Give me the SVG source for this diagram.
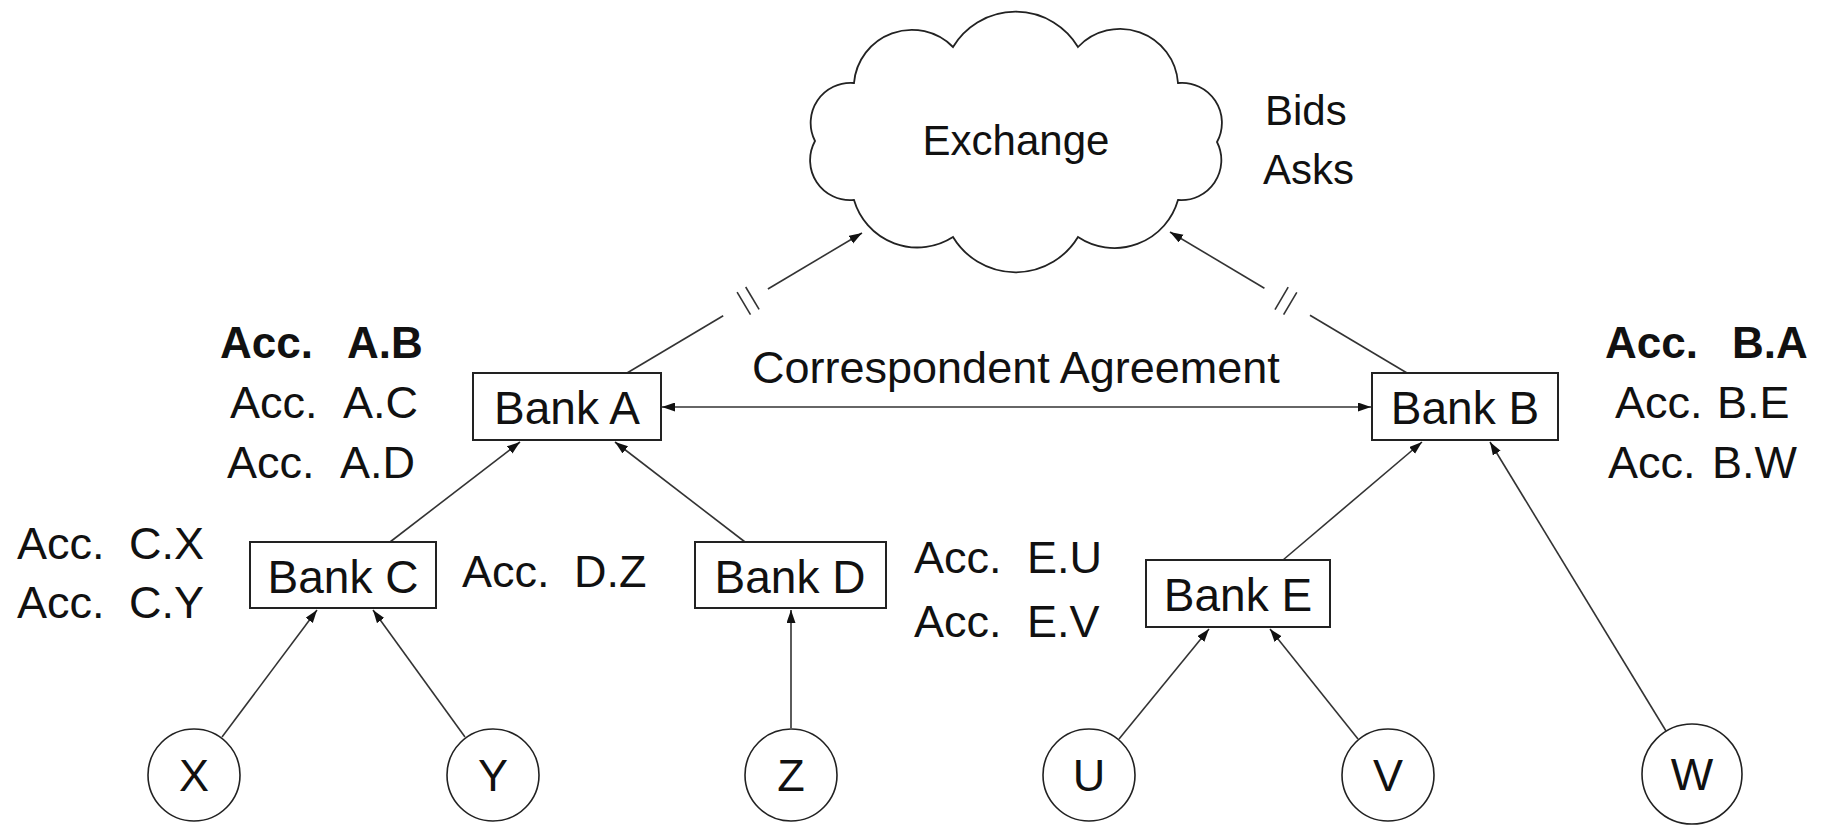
<svg xmlns="http://www.w3.org/2000/svg" width="1821" height="825" viewBox="0 0 1821 825">
  <defs>
    <style>
      text { font-family: "Liberation Sans", Arial, sans-serif; fill: #111; }
      .lbl { font-size: 45px; }
      .bold { font-size: 44px; font-weight: bold; }
      .bank { font-size: 46px; text-anchor: middle; }
      .leaf { font-size: 45px; text-anchor: middle; }
      .box { fill: #fff; stroke: #222; stroke-width: 2; }
      .circ { fill: #fff; stroke: #222; stroke-width: 1.6; }
      .cloud { fill: #fff; stroke: #222; stroke-width: 1.8; }
      .edge { fill: none; stroke: #333; stroke-width: 1.6; }
      .arr { marker-end: url(#head); }
      .both { marker-start: url(#tail); marker-end: url(#head); }
    </style>
    <marker id="head" markerUnits="userSpaceOnUse" markerWidth="14" markerHeight="10" refX="13" refY="4.5" orient="auto">
      <path d="M0,0 L13,4.5 L0,9 Z" fill="#111"/>
    </marker>
    <marker id="tail" markerUnits="userSpaceOnUse" markerWidth="14" markerHeight="10" refX="0" refY="4.5" orient="auto">
      <path d="M13,0 L0,4.5 L13,9 Z" fill="#111"/>
    </marker>
  </defs>

  <!-- connectors -->
  <g id="connectors">
    <!-- Bank A to Exchange, broken line -->
    <line class="edge" x1="627" y1="373" x2="723.2" y2="315.7"/>
    <line class="edge arr" x1="767.9" y1="289" x2="862" y2="233"/>
    <line class="edge" x1="737.1" y1="292.2" x2="750.5" y2="314.6"/>
    <line class="edge" x1="745.7" y1="287" x2="759.1" y2="309.4"/>
    <!-- Bank B to Exchange, broken line -->
    <line class="edge" x1="1407" y1="373" x2="1310" y2="315.3"/>
    <line class="edge arr" x1="1264.4" y1="288.2" x2="1170" y2="232"/>
    <line class="edge" x1="1283.6" y1="314.7" x2="1296.8" y2="292.3"/>
    <line class="edge" x1="1275" y1="309.6" x2="1288.2" y2="287.2"/>
    <!-- correspondent agreement -->
    <line class="edge both" x1="662" y1="407" x2="1371" y2="407"/>
    <!-- banks to upper banks -->
    <line class="edge arr" x1="390" y1="542" x2="520" y2="442"/>
    <line class="edge arr" x1="745" y1="542" x2="615" y2="442"/>
    <line class="edge arr" x1="1283" y1="560" x2="1422" y2="442"/>
    <!-- customers to banks -->
    <line class="edge arr" x1="222" y1="737" x2="317" y2="610"/>
    <line class="edge arr" x1="465" y1="737" x2="373" y2="610"/>
    <line class="edge arr" x1="791" y1="728" x2="791" y2="610"/>
    <line class="edge arr" x1="1119" y1="739" x2="1209" y2="629"/>
    <line class="edge arr" x1="1358" y1="739" x2="1270" y2="629"/>
    <line class="edge arr" x1="1666" y1="731" x2="1490" y2="442"/>
  </g>

  <g id="correspondent-label">
    <text class="lbl" x="752" y="383">Correspondent Agreement</text>
  </g>

  <!-- exchange -->
  <g id="exchange">
    <path class="cloud" d="M854,83 A58,58 0 0,1 953,47 A73,73 0 0,1 1078,47 A58,58 0 0,1 1178,83 A40,40 0 0,1 1217,142 A40,40 0 0,1 1178,200 A66,66 0 0,1 1078,237 A73,73 0 0,1 953,237 A66,66 0 0,1 854,200 A40,40 0 0,1 815,141 A40,40 0 0,1 854,83 Z"/>
    <text x="1016" y="155" style="font-size:42px;text-anchor:middle">Exchange</text>
    <text x="1265" y="125" style="font-size:42px">Bids</text>
    <text x="1263" y="184" style="font-size:42px">Asks</text>
  </g>

  <!-- banks -->
  <g id="bank-a">
    <rect class="box" x="473" y="373" width="188" height="67"/>
    <text class="bank" x="567" y="424">Bank A</text>
    <text class="bold"><tspan x="220" y="358">Acc.</tspan><tspan x="347" y="358">A.B</tspan></text>
    <text class="lbl"><tspan x="230" y="418">Acc.</tspan><tspan x="343" y="418">A.C</tspan></text>
    <text class="lbl"><tspan x="227" y="478">Acc.</tspan><tspan x="340" y="478">A.D</tspan></text>
  </g>
  <g id="bank-b">
    <rect class="box" x="1372" y="373" width="186" height="67"/>
    <text class="bank" x="1465" y="424">Bank B</text>
    <text class="bold"><tspan x="1605" y="358">Acc.</tspan><tspan x="1732" y="358">B.A</tspan></text>
    <text class="lbl"><tspan x="1615" y="418">Acc.</tspan><tspan x="1717" y="418">B.E</tspan></text>
    <text class="lbl"><tspan x="1608" y="478">Acc.</tspan><tspan x="1712" y="478">B.W</tspan></text>
  </g>
  <g id="bank-c">
    <rect class="box" x="250" y="542" width="186" height="66"/>
    <text class="bank" x="343" y="593">Bank C</text>
    <text class="lbl"><tspan x="17" y="559">Acc.</tspan><tspan x="129" y="559">C.X</tspan></text>
    <text class="lbl"><tspan x="17" y="618">Acc.</tspan><tspan x="129" y="618">C.Y</tspan></text>
  </g>
  <g id="bank-d">
    <rect class="box" x="695" y="542" width="191" height="66"/>
    <text class="bank" x="790" y="593">Bank D</text>
    <text class="lbl"><tspan x="462" y="587">Acc.</tspan><tspan x="574" y="587">D.Z</tspan></text>
  </g>
  <g id="bank-e">
    <rect class="box" x="1146" y="560" width="184" height="67"/>
    <text class="bank" x="1238" y="611">Bank E</text>
    <text class="lbl"><tspan x="914" y="573">Acc.</tspan><tspan x="1027" y="573">E.U</tspan></text>
    <text class="lbl"><tspan x="914" y="637">Acc.</tspan><tspan x="1027" y="637">E.V</tspan></text>
  </g>

  <!-- customers -->
  <g id="node-x">
    <circle class="circ" cx="194" cy="775" r="46"/>
    <text class="leaf" x="194" y="791">X</text>
  </g>
  <g id="node-y">
    <circle class="circ" cx="493" cy="775" r="46"/>
    <text class="leaf" x="493" y="791">Y</text>
  </g>
  <g id="node-z">
    <circle class="circ" cx="791" cy="775" r="46"/>
    <text class="leaf" x="791" y="791">Z</text>
  </g>
  <g id="node-u">
    <circle class="circ" cx="1089" cy="775" r="46"/>
    <text class="leaf" x="1089" y="791">U</text>
  </g>
  <g id="node-v">
    <circle class="circ" cx="1388" cy="775" r="46"/>
    <text class="leaf" x="1388" y="791">V</text>
  </g>
  <g id="node-w">
    <circle class="circ" cx="1692" cy="774" r="50"/>
    <text class="leaf" x="1692" y="790">W</text>
  </g>
</svg>
